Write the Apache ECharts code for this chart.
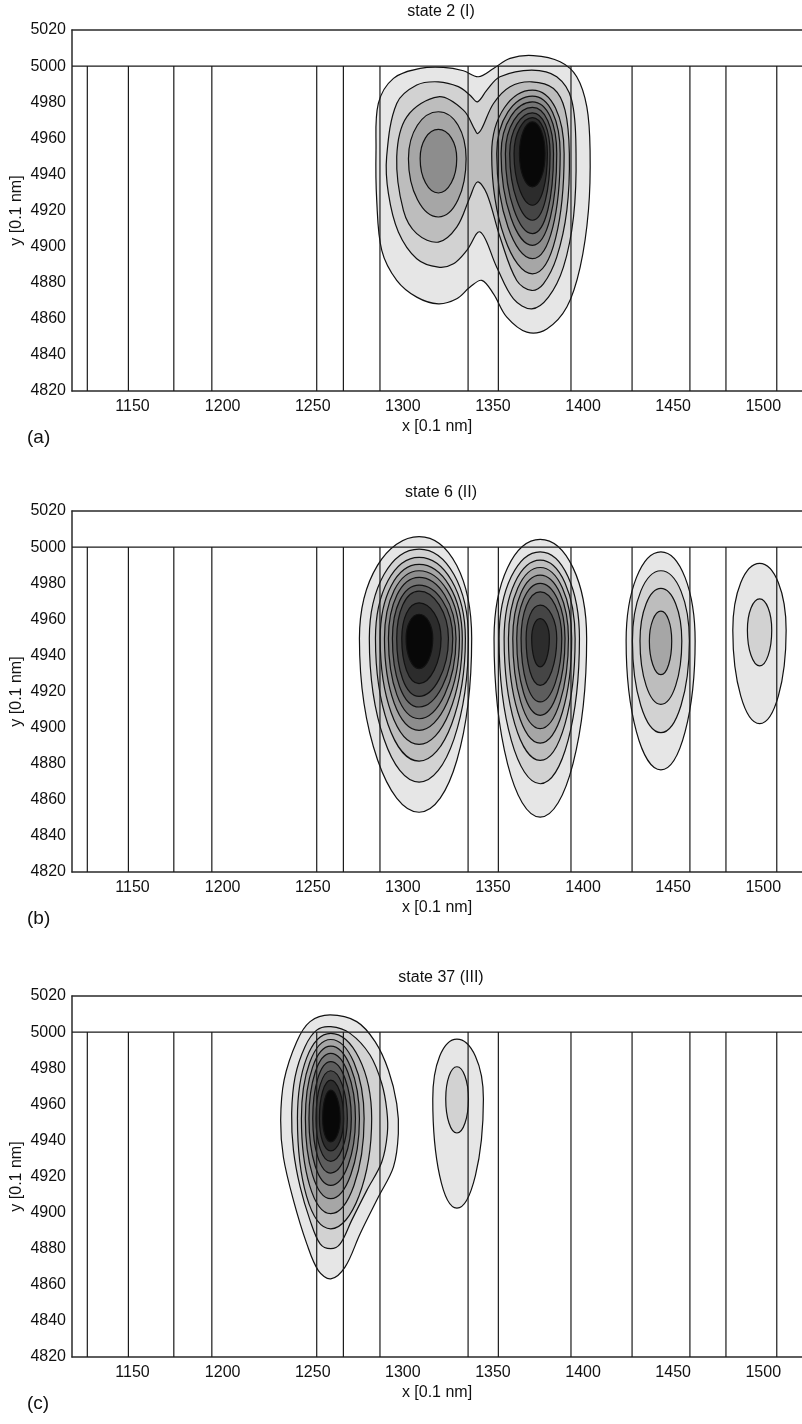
<!DOCTYPE html>
<html>
<head>
<meta charset="utf-8">
<script src="https://cdn.jsdelivr.net/npm/echarts@6/dist/echarts.min.js"></script>
<style>
  html, body { margin: 0; padding: 0; background: #fff; }
  #chart { width: 802px; height: 1424px; }
</style>
</head>
<body>
<div id="chart"></div>
<script>
// axes
const xMin = 1116.4, xMax = 1521.5;
const yMin = 4820, yMax = 5020;
const xTicks = [1150, 1200, 1250, 1300, 1350, 1400, 1450, 1500];

// vertical lines (same in every panel) and the horizontal line they hang from
const rodX = [1124.9, 1147.7, 1172.9, 1194.0, 1252.2, 1267.0, 1287.3, 1336.2, 1353.0, 1393.3, 1427.2, 1459.3, 1479.3, 1507.5];
const rodTopY = 5000;

const titles = ['state 2 (I)', 'state 6 (II)', 'state 37 (III)'];
const tags = ['(a)', '(b)', '(c)'];

// fill of contour level 1 (lowest) .. 10 (highest)
const levelGray = ['#e6e6e6', '#d2d2d2', '#bdbdbd', '#a6a6a6', '#8d8d8d', '#757575', '#5d5d5d', '#454545', '#2c2c2c', '#080808'];

// ---- panel (a): the three lowest levels join both lobes ----
const a1 = [[1285.1,4953.4],[1286.4,4979.3],[1294.8,4993.2],[1309.6,4998.7],[1322.5,4999.3],[1333.6,4997.4],[1341.9,4994.1],[1350.3,4998.7],[1359.5,5004.3],[1372.4,5005.8],[1387.3,5002.4],[1396.5,4994.1],[1402.1,4977.4],[1403.9,4953.4],[1403.0,4920.1],[1398.4,4888.6],[1391.0,4866.5],[1379.9,4854.4],[1368.8,4852.6],[1357.7,4860.9],[1350.3,4873.8],[1343.8,4881.3],[1337.3,4877.6],[1329.9,4871.1],[1319.7,4868.3],[1307.7,4872.0],[1296.6,4881.3],[1288.3,4897.9],[1285.5,4925.6]];
const a2 = [[1291.0,4949.7],[1296.6,4979.3],[1307.7,4989.5],[1319.7,4991.3],[1330.8,4988.6],[1337.3,4983.9],[1341.4,4980.2],[1346.6,4986.7],[1353.9,4994.1],[1371.5,4997.8],[1385.4,4994.1],[1393.7,4981.2],[1396.1,4951.5],[1394.7,4916.4],[1389.1,4888.6],[1380.8,4872.0],[1371.5,4865.5],[1361.4,4871.1],[1352.1,4888.6],[1342.9,4908.1],[1335.5,4897.9],[1328.1,4890.5],[1319.7,4888.6],[1307.7,4893.3],[1297.5,4908.1],[1292.0,4929.3]];
const a3 = [[1296.6,4949.7],[1302.2,4971.9],[1319.7,4983.0],[1333.6,4975.6],[1340.1,4964.5],[1341.4,4962.6],[1343.8,4965.4],[1350.3,4979.3],[1359.5,4988.6],[1371.5,4991.3],[1383.6,4987.6],[1390.0,4975.6],[1392.4,4951.5],[1391.0,4920.1],[1385.4,4894.2],[1378.0,4879.4],[1371.5,4875.7],[1363.2,4881.2],[1353.9,4905.3],[1346.6,4929.3],[1341.4,4935.8],[1337.3,4927.5],[1329.9,4910.8],[1319.7,4902.5],[1307.7,4907.2],[1300.3,4920.1]];
// separate rings: extremes left / top / right / bottom
const aLeft = { from: 4, cx: 1319.7, cy: 4948.7,
  left: [1303.1, 1309.6], top: [4974.7, 4964.9], right: [1335.1, 1329.9], bottom: [4916.4, 4929.7] };
const aRight = { from: 4, cx: 1371.9, cy: 4951.5,
  left: [1349.3, 1352.1, 1354.5, 1356.9, 1359.3, 1361.7, 1364.7],
  top: [4986.7, 4983.4, 4980.2, 4977.1, 4974.1, 4971.5, 4969.1],
  right: [1389.5, 1387.3, 1385.4, 1383.6, 1381.7, 1380.2, 1378.9],
  bottom: [4884.9, 4893.3, 4900.7, 4907.2, 4914.6, 4922.9, 4933.1] };

// ---- panel (b) ----
const b1 = { from: 1, cx: 1309.0, cy: 4949.3,
  left: [1275.9, 1281.4, 1284.8, 1287.4, 1289.8, 1292.0, 1294.2, 1296.6, 1299.4, 1301.8],
  top: [5005.8, 4998.9, 4994.3, 4990.4, 4986.9, 4983.2, 4978.9, 4975.6, 4969.1, 4962.8],
  right: [1338.2, 1336.4, 1334.7, 1333.0, 1331.4, 1329.5, 1327.7, 1325.3, 1321.2, 1316.6],
  bottom: [4853.1, 4869.8, 4881.4, 4890.7, 4898.5, 4904.9, 4911.4, 4917.3, 4924.4, 4932.7] };
const b2 = { from: 1, cx: 1376.2, cy: 4949.3,
  left: [1350.6, 1353.4, 1356.2, 1358.6, 1361.0, 1363.2, 1365.6, 1368.4, 1371.5],
  top: [5004.3, 4997.4, 4992.8, 4988.7, 4984.5, 4979.9, 4975.2, 4967.8, 4960.4],
  right: [1402.0, 1398.0, 1395.6, 1393.7, 1391.9, 1390.0, 1388.2, 1385.4, 1381.3],
  bottom: [4850.4, 4868.9, 4881.8, 4891.4, 4899.4, 4906.8, 4914.2, 4923.4, 4933.6] };
const b3 = { from: 1, cx: 1443.2, cy: 4948.0,
  left: [1423.9, 1427.4, 1431.6, 1436.8], top: [4997.4, 4986.9, 4977.1, 4964.5],
  right: [1462.2, 1459.0, 1454.8, 1449.2], bottom: [4876.6, 4897.2, 4912.9, 4929.3] };
const b4 = { from: 1, cx: 1498.0, cy: 4954.0,
  left: [1483.1, 1491.2], top: [4991.0, 4971.3], right: [1512.7, 1504.7], bottom: [4902.2, 4934.2] };

// ---- panel (c) ----
const c1 = [[1259.6,5009.5],[1274.4,5005.8],[1284.6,4994.7],[1292.0,4978.9],[1296.6,4960.4],[1297.5,4943.8],[1294.8,4925.3],[1286.4,4908.6],[1276.3,4888.3],[1267.9,4869.8],[1260.0,4863.3],[1253.1,4867.9],[1246.7,4882.7],[1239.3,4906.8],[1233.7,4930.8],[1232.2,4951.2],[1234.1,4973.4],[1241.1,4994.7],[1248.5,5005.8]];
const c2 = [[1260.0,5003.0],[1270.7,4999.3],[1281.8,4987.3],[1288.3,4971.5],[1291.1,4956.7],[1291.4,4943.8],[1288.3,4928.0],[1280.0,4912.3],[1271.6,4895.7],[1265.2,4882.7],[1260.0,4880.0],[1254.1,4882.7],[1248.5,4895.7],[1243.0,4914.2],[1239.3,4934.5],[1238.3,4954.9],[1240.2,4975.2],[1245.7,4991.9],[1252.2,5001.1]];
const cLeft = { from: 3, cx: 1260.0, cy: 4952.1,
  left: [1241.5, 1243.7, 1245.9, 1247.9, 1250.0, 1251.8, 1253.7, 1255.5],
  top: [4999.3, 4995.9, 4992.2, 4988.2, 4983.6, 4978.6, 4973.4, 4967.8],
  right: [1282.7, 1278.5, 1275.9, 1273.7, 1271.4, 1269.2, 1267.2, 1265.2],
  bottom: [4891.0, 4899.4, 4907.7, 4915.1, 4921.9, 4928.4, 4934.2, 4939.2] };
const cRight = { from: 1, cx: 1330.0, cy: 4963.0,
  left: [1316.6, 1323.8], top: [4996.1, 4980.8], right: [1344.7, 1336.4], bottom: [4902.5, 4944.1] };

function rings(b) {
  return b.left.map((l, k) => [b.from + k, [[l, b.cy], [b.cx, b.top[k]], [b.right[k], b.cy], [b.cx, b.bottom[k]]]]);
}
function byLevel(list) {
  return list.slice().sort((p, q) => p[0] - q[0]);
}

const panels = [
  byLevel([[1, a1], [2, a2], [3, a3]].concat(rings(aLeft), rings(aRight))),
  byLevel([].concat(rings(b1), rings(b2), rings(b3), rings(b4))),
  byLevel([[1, c1], [2, c2]].concat(rings(cLeft), rings(cRight)))
];

const gridTops = [30, 511, 996];
const gridH = 361;
const font = 'Liberation Sans, Arial, sans-serif';

const chart = echarts.init(document.getElementById('chart'));

const grid = [], xAxis = [], yAxis = [], series = [], graphic = [];

panels.forEach((list, i) => {
  grid.push({ left: 72, right: 0, top: gridTops[i], height: gridH, containLabel: false, outerBoundsMode: 'none' });
  xAxis.push({
    gridIndex: i, type: 'value', min: xMin, max: xMax,
    axisLine: { show: true, onZero: false, lineStyle: { color: '#2a2a2a', width: 1.5 } },
    axisTick: { show: false }, splitLine: { show: false },
    axisLabel: { customValues: xTicks, fontSize: 16, color: '#111', fontFamily: font, margin: 8,
      formatter: v => String(v) },
    name: 'x [0.1 nm]', nameLocation: 'middle', nameGap: 28, nameMoveOverlap: false,
    nameTextStyle: { fontSize: 16, color: '#111', fontFamily: font }
  });
  xAxis.push({
    gridIndex: i, type: 'value', position: 'top', min: xMin, max: xMax,
    axisLine: { show: true, onZero: false, lineStyle: { color: '#2a2a2a', width: 1.5 } },
    axisTick: { show: false }, axisLabel: { show: false }, splitLine: { show: false }
  });
  yAxis.push({
    gridIndex: i, type: 'value', min: yMin, max: yMax, interval: 20,
    axisLine: { show: true, onZero: false, lineStyle: { color: '#2a2a2a', width: 1.5 } },
    axisTick: { show: false }, splitLine: { show: false },
    axisLabel: { fontSize: 16, color: '#111', fontFamily: font, margin: 6, formatter: v => String(v) },
    name: 'y [0.1 nm]', nameLocation: 'middle', nameGap: 47, nameRotate: 90, nameMoveOverlap: false,
    nameTextStyle: { fontSize: 16, color: '#111', fontFamily: font }
  });

  series.push({
    type: 'custom', xAxisIndex: i * 2, yAxisIndex: i, z: 2, silent: true,
    data: list.map(c => [c[1][0][0], c[1][0][1]]),
    encode: { x: 0, y: 1 },
    renderItem: (params, api) => {
      const c = list[params.dataIndex];
      const pts = c[1].map(p => api.coord(p));
      return {
        type: 'polygon',
        shape: { points: pts, smooth: pts.length > 4 ? 0.35 : 0.55 },
        style: { fill: levelGray[c[0] - 1], stroke: '#111', lineWidth: 1.2 }
      };
    }
  });
  series.push({
    type: 'custom', xAxisIndex: i * 2, yAxisIndex: i, z: 3, silent: true,
    data: rodX.map(x => [x, yMin, rodTopY]),
    encode: { x: 0, y: [1, 2] },
    renderItem: (params, api) => {
      const p0 = api.coord([api.value(0), api.value(1)]);
      const p1 = api.coord([api.value(0), api.value(2)]);
      return { type: 'line', shape: { x1: p0[0], y1: p0[1], x2: p1[0], y2: p1[1] },
        style: { stroke: '#1a1a1a', lineWidth: 1.2 } };
    }
  });
  series.push({
    type: 'custom', xAxisIndex: i * 2, yAxisIndex: i, z: 3, silent: true,
    data: [[xMin, xMax, rodTopY]],
    encode: { x: [0, 1], y: 2 },
    renderItem: (params, api) => {
      const p0 = api.coord([api.value(0), api.value(2)]);
      const p1 = api.coord([api.value(1), api.value(2)]);
      return { type: 'line', shape: { x1: p0[0], y1: p0[1], x2: p1[0], y2: p1[1] },
        style: { stroke: '#1a1a1a', lineWidth: 1.3 } };
    }
  });

  graphic.push({
    type: 'text', x: 441, y: gridTops[i] - 18,
    style: { text: titles[i], font: '16px ' + font, fill: '#111',
      align: 'center', verticalAlign: 'middle', textAlign: 'center', textVerticalAlign: 'middle' }
  });
  graphic.push({
    type: 'text', x: 27, y: gridTops[i] + 408,
    style: { text: tags[i], font: '19px ' + font, fill: '#111',
      align: 'left', verticalAlign: 'middle', textAlign: 'left', textVerticalAlign: 'middle' }
  });
});

chart.setOption({
  animation: false,
  backgroundColor: '#fff',
  grid, xAxis, yAxis, series, graphic
});
</script>
</body>
</html>
